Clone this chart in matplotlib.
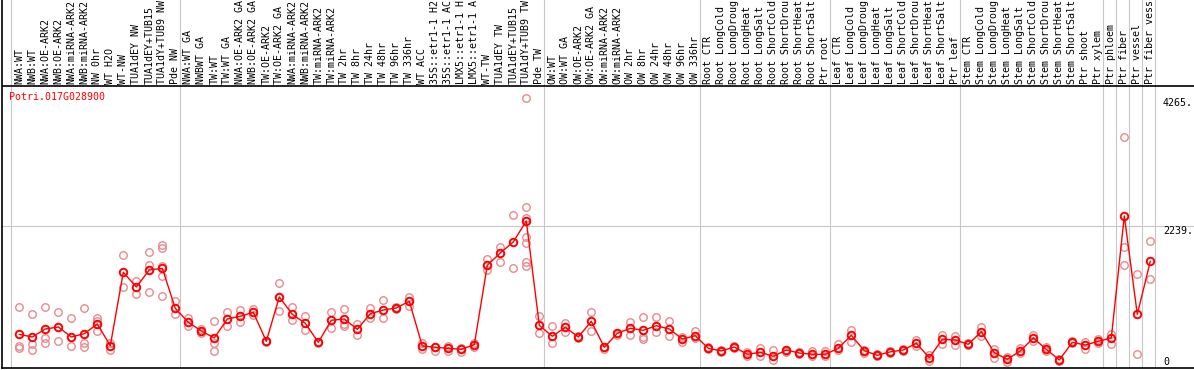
import numpy as np
import matplotlib
matplotlib.use("Agg")
import matplotlib.pyplot as plt

labels = ["NWA:WT", "NWB:WT", "NWA:OE-ARK2", "NWB:OE-ARK2", "NWA:miRNA-ARK2", "NWB:miRNA-ARK2",
          "NW 0hr", "WT H2O", "WT-NW", "TUA1dEY NW", "TUA1dEY+TUB15", "TUA1dY+TUB9 NW", "Pde NW",
          "NWA:WT GA", "NWBWT GA", "TW:WT", "TW:WT GA", "NWA:OE-ARK2 GA", "NWB:OE-ARK2 GA",
          "TW:OE-ARK2", "TW:OE-ARK2 GA", "NWA:miRNA-ARK2", "NWB:miRNA-ARK2", "TW:miRNA-ARK2",
          "TW:miRNA-ARK2", "TW 2hr", "TW 8hr", "TW 24hr", "TW 48hr", "TW 96hr", "TW 336hr",
          "WT ACC", "35S::etr1-1 H2", "35S::etr1-1 AC", "LMX5::etr1-1 H", "LMX5::etr1-1 A",
          "WT-TW", "TUA1dEY TW", "TUA1dEY+TUB15", "TUA1dY+TUB9 TW", "Pde TW",
          "OW:WT", "OW:WT GA", "OW:OE-ARK2", "OW:OE-ARK2 GA", "OW:miRNA-ARK2", "OW:miRNA-ARK2",
          "OW 2hr", "OW 8hr", "OW 24hr", "OW 48hr", "OW 96hr", "OW 336hr",
          "Root CTR", "Root LongCold", "Root LongDroug", "Root LongHeat", "Root LongSalt",
          "Root ShortCold", "Root ShortDrou", "Root ShortHeat", "Root ShortSalt", "Ptr root",
          "Leaf CTR", "Leaf LongCold", "Leaf LongDroug", "Leaf LongHeat", "Leaf LongSalt",
          "Leaf ShortCold", "Leaf ShortDrou", "Leaf ShortHeat", "Leaf ShortSalt", "Ptr leaf",
          "Stem CTR", "Stem LongCold", "Stem LongDroug", "Stem LongHeat", "Stem LongSalt",
          "Stem ShortCold", "Stem ShortDrou", "Stem ShortHeat", "Stem ShortSalt", "Ptr shoot",
          "Ptr xylem", "Ptr phloem", "Ptr fiber", "Ptr vessel", "Ptr fiber vess"]

means = [532, 490, 616, 648, 490, 542, 695, 352, 1512, 1280, 1548, 1575, 943,
         722, 585, 474, 774, 817, 880, 422, 1122, 848, 706, 406, 754, 774, 611, 858, 916, 948, 1054,
         348, 327, 311, 295, 368, 1623, 1817, 1991, 2323, 675,
         501, 643, 490, 738, 327, 548, 627, 596, 668, 616, 458, 510,
         311, 269, 332, 216, 248, 185, 284, 237, 216, 216,
         311, 517, 273, 201, 255, 284, 390, 163, 453, 442,
         374, 574, 242, 137, 269, 474, 295, 126, 406, 363, 422,
         474, 2402, 848, 1686]

reps = [[964, 352, 311], [848, 374, 280], [964, 479, 390], [885, 427], [790, 348],
        [943, 390, 332], [790, 747, 585], [390, 280], [1781, 1275], [1375, 1174],
        [1828, 1627, 1196], [1943, 1901, 1616, 1454, 1142], [1059, 848],
        [790, 664], [621, 558], [738, 390, 264], [885, 664], [916, 722], [932, 842],
        [422, 410], [1343, 901], [964, 754], [822, 596], [416, 395], [880, 627],
        [932, 690, 664], [700, 517], [948, 795], [1074, 785], [964, 932], [1127, 980],
        [390, 295], [337, 264], [343, 269], [316, 248], [400, 327],
        [1722, 1548], [1912, 1670], [2417, 1575],
        [4265, 2539, 2375, 2075, 1970, 1680, 1616], [817, 548],
        [659, 390], [706, 574], [506, 474], [880, 589], [327, 300], [548, 521],
        [722, 517], [806, 495, 458], [806, 574], [738, 506], [495, 416], [589, 474],
        [332, 300], [284, 253], [348, 316], [258, 190], [311, 190], [284, 126],
        [269, 253], [253, 221], [273, 190], [264, 190],
        [374, 284], [600, 411], [284, 232], [221, 190], [273, 237], [305, 269],
        [438, 352], [201, 115], [521, 379], [506, 363],
        [390, 359], [653, 506], [295, 163], [179, 100], [311, 242], [517, 427],
        [332, 269], [147, 111], [422, 395], [406, 305], [463, 395],
        [537, 384], [3645, 1907, 1623], [1485, 216], [2002, 1401]]

group_starts = [0, 13, 41, 53, 63, 73, 84, 85, 86, 87, 88]
title = "Potri.017G028900"
ytick_vals = [4265, 2239, 0]
ytick_txt = ["4265.", "2239.", "0"]

W, H = 1194, 370
fig = plt.figure(figsize=(W / 100, H / 100), dpi=100)
ax = fig.add_axes([1.5 / W, 2 / H, 1 - 1.5 / W, 368 / H])

unit = 4265 / 270.0          # value per pixel
ax.set_xlim((1.5 - 19.3) / 13, (W - 19.3) / 13)
ax.set_ylim(0, 368 * unit)

x = np.arange(len(labels))
grid_c = "#c8c8c8"
mono = "DejaVu Sans Mono"

for g in group_starts:
    ax.axvline(g - 8 / 13, color=grid_c, lw=0.8, zorder=1)
ax.axhline(2239, color=grid_c, lw=0.8, zorder=1)
ax.axhline(282 * unit, color="black", lw=1.2, zorder=2)

for i, r in enumerate(reps):
    ax.plot([i] * len(r), r, "o", ms=5.4, mfc="none", mec="#e88a8e", mew=1.0, zorder=3)
ax.plot(x, means, "-", color="red", lw=1.0, zorder=4)
ax.plot(x, means, "o", ms=5.4, mfc="none", mec="red", mew=1.4, zorder=5)

for i, lab in enumerate(labels):
    ax.text(i, 284 * unit, lab, rotation=90, ha="center", va="bottom",
            fontsize=7.2, family=mono, color="black")

ax.text((9.5 - 19.3) / 13, (368 - 97) * unit, title, ha="left", va="center",
        fontsize=7.2, family=mono, color="red")

for v, t in zip(ytick_vals, ytick_txt):
    ax.text((1163 - 19.3) / 13, v - 4.7 * unit if v > 0 else 6.3 * unit, t,
            ha="left", va="center", fontsize=7.2, family=mono, color="black")

for s in ["top", "right"]:
    ax.spines[s].set_visible(False)
ax.spines["left"].set_linewidth(1.2)
ax.spines["bottom"].set_linewidth(1.2)
ax.set_xticks([])
ax.set_yticks([])

fig.savefig("out.png", dpi=100)
